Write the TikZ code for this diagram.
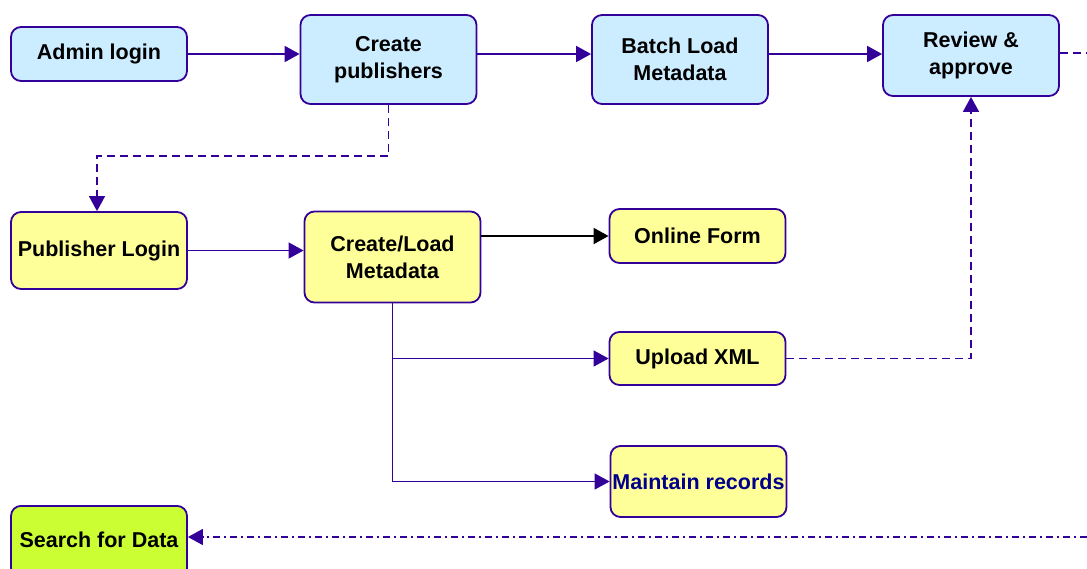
\documentclass[tikz,border=0pt]{standalone}
\usepackage{fontspec}
\setmainfont{Liberation Sans}
\usetikzlibrary{arrows.meta}
\definecolor{edgepurple}{RGB}{51,0,153}
\definecolor{adminblue}{RGB}{204,236,255}
\definecolor{pubyellow}{RGB}{255,255,153}
\definecolor{searchgreen}{RGB}{204,255,51}
\definecolor{recnavy}{RGB}{0,0,140}
\tikzset{
	box/.style={draw=edgepurple, line width=1.8pt, rounded corners=10pt,
		minimum width=176pt, align=center, inner sep=0pt,
		font=\fontsize{21.5}{27}\selectfont\bfseries},
	adminbox/.style={box, fill=adminblue},
	pubbox/.style={box, fill=pubyellow},
	searchbox/.style={box, fill=searchgreen},
	tip/.style={-{Triangle[length=15pt,width=16pt]}},
	flow/.style={tip, color=edgepurple, line width=1.8pt},
	thinflow/.style={tip, color=edgepurple, line width=1.3pt},
	later/.style={tip, color=edgepurple, line width=1.5pt,
		dash pattern=on 8pt off 5pt},
	feed/.style={tip, color=edgepurple, line width=1.5pt,
		dash pattern=on 7pt off 4pt on 2pt off 4pt}
}

\begin{document}
\begin{tikzpicture}[x=1pt, y=-1pt]
\useasboundingbox (0,0) rectangle (1087,568);

% admin row
\node[adminbox, minimum height=54pt] (admin) at (99,54) {Admin login};
\node[adminbox, minimum height=89pt] (createpub) at (388.5,59.5) {Create\\publishers};
\node[adminbox, minimum height=89pt] (batchload) at (680,59.5) {Batch Load\\Metadata};
\node[adminbox, minimum height=81pt] (review) at (971,55.5) {Review \&\\approve};
\coordinate (rightout) at (1087,53);

% publisher rows
\node[pubbox, minimum height=77pt] (publogin) at (99,250.5) {Publisher Login};
\node[pubbox, minimum height=91pt] (createload) at (392.5,257) {Create/Load\\Metadata};
\node[pubbox, minimum height=54pt] (onlineform) at (697.5,236) {Online Form};
\node[pubbox, minimum height=53pt] (uploadxml) at (697.5,358.5) {Upload XML};
\node[pubbox, minimum height=71pt, text=recnavy] (maintain) at (698.5,481.5) {Maintain records};

\node[searchbox, minimum height=72pt, anchor=north] (search) at (99,505) {\raisebox{4pt}{Search for Data}};
\coordinate (rightin) at (1087,537);

\draw[flow] (admin.east) -- (admin.east -| createpub.west);
\draw[flow] (admin.east -| createpub.east) -- (admin.east -| batchload.west);
\draw[flow] (admin.east -| batchload.east) -- (admin.east -| review.west);
\draw[edgepurple, line width=1.5pt, dash pattern=on 8pt off 5pt] (rightout -| review.east) -- (rightout);

\draw[later] (createpub.south) -- ++(0,51) -| ([xshift=-2pt]publogin.north);

\draw[thinflow] (publogin.east) -- (publogin.east -| createload.west);
\draw[tip, line width=1.8pt] (createload.east |- onlineform) -- (onlineform.west);
\draw[thinflow] (createload.south) |- (maintain.west);
\draw[thinflow] (createload.south |- uploadxml) -- (uploadxml.west);

\draw[later] (uploadxml.east) -| (review.south);
\draw[feed] (rightin) -- (rightin -| search.east);
\end{tikzpicture}
\end{document}
